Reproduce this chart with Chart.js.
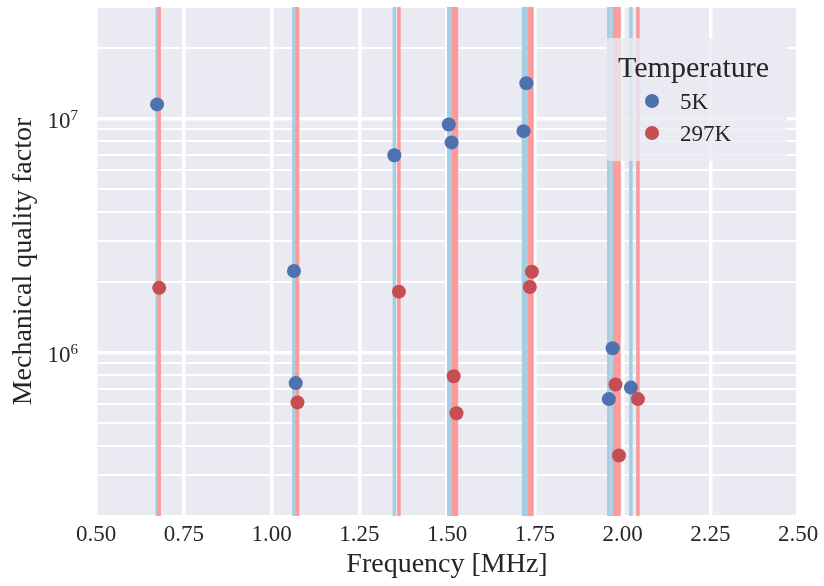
<!DOCTYPE html>
<html>
<head>
<meta charset="utf-8">
<script src="https://cdn.jsdelivr.net/npm/chart.js@4.4.1/dist/chart.umd.min.js"></script>
<style>
  html, body { margin: 0; padding: 0; background: #ffffff; }
  canvas { display: block; }
</style>
</head>
<body>
<canvas id="q_factor_chart" width="824" height="586"></canvas>
<script>
"use strict";

// Mode frequencies [MHz] and mechanical Q
var freq5K = [0.674, 1.064, 1.069, 1.350, 1.505, 1.513, 1.718, 1.726, 1.961, 1.972, 2.024];
var q5K = [1.15e7, 2.23e6, 7.40e5, 6.97e6, 9.43e6, 7.91e6, 8.84e6, 1.416e7, 6.32e5, 1.043e6, 7.08e5];

var freq297K = [0.680, 1.074, 1.363, 1.519, 1.527, 1.736, 1.742, 1.980, 1.990, 2.044];
var q297K = [1.89e6, 6.12e5, 1.82e6, 7.91e5, 5.50e5, 1.905e6, 2.213e6, 7.30e5, 3.63e5, 6.32e5];

var seriesLabels = ['5K', '297K'];

// Axis limits and ticks
var xLimits = [0.5, 2.5];
var xStep = 0.25;
var yLimits = [2e5, 3e7];
var yTicks = [2e5, 3e5, 4e5, 5e5, 6e5, 7e5, 8e5, 9e5,
              1e6, 2e6, 3e6, 4e6, 5e6, 6e6, 7e6, 8e6, 9e6,
              1e7, 2e7, 3e7];
var yMajor = [1e6, 1e7];
var yMajorExponents = ['6', '7'];

var QFactorChart = function () {
    var FONT = "'Liberation Serif', 'DejaVu Serif', serif";
    var TEXT = '#262626';
    var BLUE = '#4c72b0', RED = '#c44e52';
    var LIGHT_BLUE = '#a6cee3', LIGHT_RED = '#fb9a99';

    // one full-height vertical line per mode
    var modeLines = function (freqs, color, order) {
        return freqs.map(function (f) {
            return {
                type: 'line',
                data: [{ x: f, y: yLimits[0] }, { x: f, y: yLimits[1] }],
                borderColor: color,
                borderWidth: 3.5,
                pointRadius: 0,
                showLine: true,
                order: order
            };
        });
    };

    var points = function (freqs, qs, label, color) {
        return {
            label: label,
            data: freqs.map(function (f, i) { return { x: f, y: qs[i] }; }),
            backgroundColor: color,
            borderWidth: 0,
            pointRadius: 7,
            order: 0
        };
    };

    // darkgrid background
    var backgroundPlugin = {
        id: 'plotBackground',
        beforeDraw: function (chart) {
            var a = chart.chartArea, ctx = chart.ctx;
            ctx.save();
            ctx.fillStyle = '#eaeaf2';
            ctx.fillRect(a.left, a.top, a.right - a.left, a.bottom - a.top);
            ctx.restore();
        }
    };

    // 10^n labels with a real raised exponent
    var powerLabelPlugin = {
        id: 'powerLabels',
        afterDraw: function (chart) {
            var ctx = chart.ctx, y = chart.scales.y;
            var right = y.right - 18;
            ctx.save();
            ctx.fillStyle = TEXT;
            ctx.textAlign = 'right';
            ctx.textBaseline = 'alphabetic';
            yMajor.forEach(function (v, i) {
                var py = y.getPixelForValue(v);
                ctx.font = '15px ' + FONT;
                var expW = ctx.measureText(yMajorExponents[i]).width;
                ctx.fillText(yMajorExponents[i], right, py + 1.5);
                ctx.font = '23px ' + FONT;
                ctx.fillText('10', right - expW, py + 9);
            });
            ctx.restore();
        }
    };

    // legend box placed inside the axes, upper right
    var legendPlugin = {
        id: 'innerLegend',
        afterDraw: function (chart) {
            var ctx = chart.ctx;
            var box = { x: 606, y: 38, w: 181, h: 123 };
            ctx.save();
            ctx.fillStyle = 'rgba(234,234,242,0.8)';
            ctx.beginPath();
            ctx.roundRect(box.x, box.y, box.w, box.h, 4);
            ctx.fill();

            ctx.fillStyle = TEXT;
            ctx.textBaseline = 'alphabetic';
            ctx.font = '30px ' + FONT;
            ctx.fillText('Temperature', 618, 77);

            var colors = [BLUE, RED];
            var rows = [101, 133];
            ctx.font = '23px ' + FONT;
            seriesLabels.forEach(function (label, i) {
                ctx.fillStyle = colors[i];
                ctx.beginPath();
                ctx.arc(652, rows[i], 7, 0, Math.PI * 2);
                ctx.fill();
                ctx.fillStyle = TEXT;
                ctx.fillText(label, 680, rows[i] + 8);
            });
            ctx.restore();
        }
    };

    var initChart = function () {
        var element = document.getElementById('q_factor_chart');
        if (!element) {
            return;
        }

        var datasets = []
            .concat(modeLines(freq5K, LIGHT_BLUE, 2))
            .concat(modeLines(freq297K, LIGHT_RED, 1))
            .concat([points(freq5K, q5K, seriesLabels[0], BLUE)])
            .concat([points(freq297K, q297K, seriesLabels[1], RED)]);

        var config = {
            type: 'scatter',
            data: { datasets: datasets },
            options: {
                responsive: false,
                animation: false,
                devicePixelRatio: 1,
                layout: { padding: { top: 4, right: 26, left: 0, bottom: 0 } },
                scales: {
                    x: {
                        type: 'linear',
                        min: xLimits[0],
                        max: xLimits[1],
                        afterFit: function (scale) {
                            scale.height = 70;
                            scale.paddingLeft = 0;
                            scale.paddingRight = 0;
                        },
                        border: { display: false },
                        grid: { color: '#ffffff', lineWidth: 3.5, drawTicks: false },
                        ticks: {
                            stepSize: xStep,
                            padding: 5,
                            color: TEXT,
                            font: { family: FONT, size: 23 },
                            callback: function (value) { return value.toFixed(2); }
                        },
                        title: {
                            display: true,
                            text: 'Frequency [MHz]',
                            color: TEXT,
                            font: { family: FONT, size: 28 },
                            padding: { top: 0, bottom: 5 }
                        }
                    },
                    y: {
                        type: 'logarithmic',
                        min: yLimits[0],
                        max: yLimits[1],
                        afterFit: function (scale) {
                            scale.width = 96;
                            scale.paddingTop = 0;
                            scale.paddingBottom = 0;
                        },
                        afterBuildTicks: function (scale) {
                            scale.ticks = yTicks.map(function (v) { return { value: v }; });
                        },
                        border: { display: false },
                        grid: {
                            color: '#ffffff',
                            drawTicks: false,
                            lineWidth: function (ctx) {
                                return ctx.tick && yMajor.indexOf(ctx.tick.value) !== -1 ? 3.5 : 2;
                            }
                        },
                        ticks: {
                            autoSkip: false,
                            padding: 18,
                            color: 'rgba(0,0,0,0)',
                            font: { family: FONT, size: 23 },
                            callback: function (value) {
                                return yMajor.indexOf(value) === -1 ? '' : '10';
                            }
                        },
                        title: {
                            display: true,
                            text: 'Mechanical quality factor',
                            color: TEXT,
                            font: { family: FONT, size: 28 },
                            padding: { top: 7, bottom: 0 }
                        }
                    }
                },
                plugins: {
                    legend: { display: false },
                    tooltip: { enabled: false }
                }
            },
            plugins: [backgroundPlugin, powerLabelPlugin, legendPlugin]
        };

        new Chart(element.getContext('2d'), config);
    };

    // Public methods
    return {
        init: function () {
            initChart();
        }
    };
}();

document.addEventListener('DOMContentLoaded', function () {
    QFactorChart.init();
});
</script>
</body>
</html>
